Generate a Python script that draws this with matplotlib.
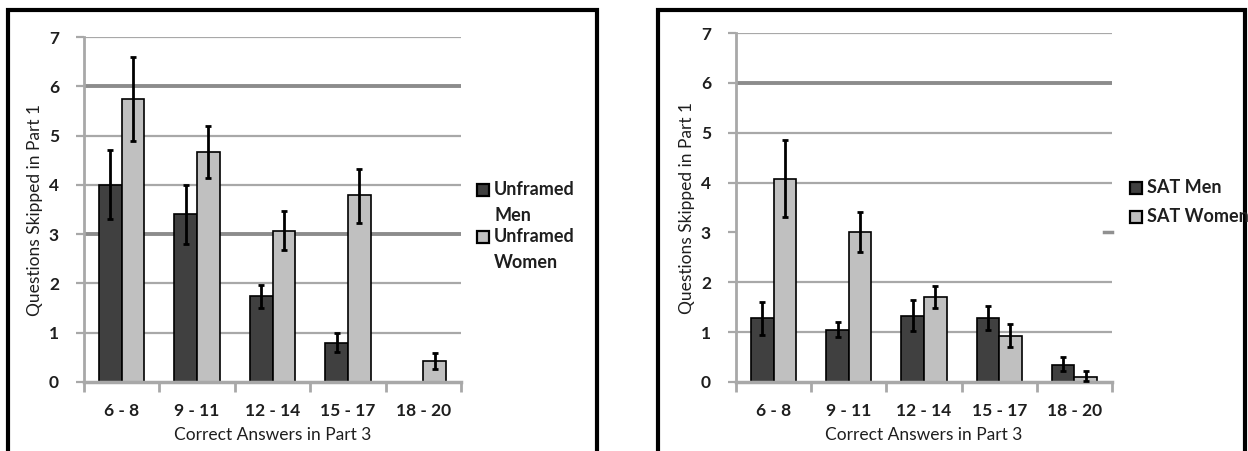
import numpy as np
import matplotlib
matplotlib.use("Agg")
import matplotlib.pyplot as plt
from matplotlib.patches import Rectangle

plt.rcParams['font.family'] = ['Lato', 'DejaVu Sans']

groups = ["6 - 8", "9 - 11", "12 - 14", "15 - 17", "18 - 20"]

# unframed condition
unf_men = [4.0, 3.4, 1.75, 0.8, 0.0]
unf_men_lo = [3.3, 2.8, 1.5, 0.6, np.nan]
unf_men_hi = [4.7, 4.0, 1.97, 1.0, np.nan]
unf_women = [5.75, 4.67, 3.07, 3.8, 0.43]
unf_women_lo = [4.88, 4.13, 2.67, 3.23, 0.27]
unf_women_hi = [6.6, 5.2, 3.47, 4.33, 0.58]

# SAT condition
sat_men = [1.28, 1.05, 1.33, 1.28, 0.35]
sat_men_lo = [0.95, 0.9, 1.03, 1.05, 0.22]
sat_men_hi = [1.6, 1.2, 1.65, 1.52, 0.5]
sat_women = [4.08, 3.0, 1.7, 0.93, 0.1]
sat_women_lo = [3.3, 2.6, 1.48, 0.7, 0.03]
sat_women_hi = [4.85, 3.4, 1.92, 1.17, 0.22]

W, H = 1248, 451
fig = plt.figure(figsize=(W / 100, H / 100), dpi=100)

def fx(px):
    return px / W

def fy(py):
    return 1 - py / H

DARK = "#404040"
LIGHT = "#c0c0c0"
GRID = "#a8a8a8"
TXT = "#1e1e1e"

# outer frames
for x0, x1 in [(8, 597), (658, 1245)]:
    fig.patches.append(Rectangle((fx(x0), fy(470)), fx(x1 - x0), fy(10) - fy(470),
                                 transform=fig.transFigure, fill=False,
                                 edgecolor="black", linewidth=3))


def legend_box(x, yc, color, label):
    # excel style: square lines up with the first text line
    s = 12
    fig.patches.append(Rectangle((fx(x), fy(yc + s / 2)), fx(s), fy(yc - s / 2) - fy(yc + s / 2),
                                 transform=fig.transFigure, facecolor=color,
                                 edgecolor="black", linewidth=1.6))
    fig.text(fx(x + s + 5), fy(yc - 9), label, ha="left", va="top", fontsize=13,
             fontweight="bold", color=TXT, linespacing=1.65)


def panel(left, right, top, men, mlo, mhi, women, wlo, whi, thick, faint):
    ax = fig.add_axes([fx(left), fy(382), fx(right - left), fy(top) - fy(382)])
    x = np.arange(len(groups))
    w = 0.3
    for v in range(1, 8):
        if v in faint:
            ax.plot([4.4, 4.5], [v, v], color="#909090", lw=2.5, zorder=0, clip_on=False)
            continue
        lw = 2.8 if v in thick else 1.6
        c = "#8c8c8c" if v in thick else GRID
        ax.axhline(v, color=c, lw=lw, zorder=0)
    ax.bar(x - w / 2, men, w, color=DARK, edgecolor="black", lw=1.2, zorder=2)
    ax.bar(x + w / 2, women, w, color=LIGHT, edgecolor="black", lw=1.2, zorder=2)
    m = np.array(men)
    f = np.array(women)
    ok = ~np.isnan(np.array(mlo))
    ax.errorbar((x - w / 2)[ok], m[ok], yerr=[m[ok] - np.array(mlo)[ok], np.array(mhi)[ok] - m[ok]],
                fmt="none", ecolor="black", elinewidth=2, capsize=2.5, capthick=2, zorder=3)
    ax.errorbar(x + w / 2, f, yerr=[f - np.array(wlo), np.array(whi) - f],
                fmt="none", ecolor="black", elinewidth=2, capsize=2.5, capthick=2, zorder=3)
    ax.set_xlim(-0.5, 4.5)
    ax.set_ylim(0, 7)
    ax.set_yticks(range(8))
    ax.set_xticks(np.arange(-0.5, 5, 1))
    ax.set_xticklabels([])
    ax.set_xticks(x, minor=True)
    ax.set_xticklabels(groups, minor=True)
    ax.tick_params(axis="x", which="minor", length=0, pad=15)
    ax.tick_params(axis="x", which="major", length=7, width=2, color=GRID, direction="out")
    ax.tick_params(axis="y", length=6, width=1.6, color=GRID, pad=12)
    for lab in ax.get_xticklabels(minor=True) + ax.get_yticklabels():
        lab.set_fontweight("bold")
        lab.set_fontsize(12.5)
        lab.set_color(TXT)
    for s in ["top", "right"]:
        ax.spines[s].set_visible(False)
    ax.spines["left"].set_color(GRID)
    ax.spines["left"].set_linewidth(2)
    ax.spines["bottom"].set_color(GRID)
    ax.spines["bottom"].set_linewidth(2.5)
    ax.set_xlabel("Correct Answers in Part 3", fontsize=12.5, color=TXT, labelpad=6)
    ax.set_ylabel("Questions Skipped in Part 1", fontsize=12.5, color=TXT, labelpad=4)
    return ax


panel(84, 461, 37, unf_men, unf_men_lo, unf_men_hi, unf_women, unf_women_lo, unf_women_hi,
      thick=[3, 6], faint=[])
legend_box(477, 190, DARK, "Unframed\nMen")
legend_box(477, 237, LIGHT, "Unframed\nWomen")

panel(736, 1112, 33, sat_men, sat_men_lo, sat_men_hi, sat_women, sat_women_lo, sat_women_hi,
      thick=[6], faint=[3])
legend_box(1130, 188, DARK, "SAT Men")
legend_box(1130, 217, LIGHT, "SAT Women")

fig.savefig("out.png", dpi=100)
